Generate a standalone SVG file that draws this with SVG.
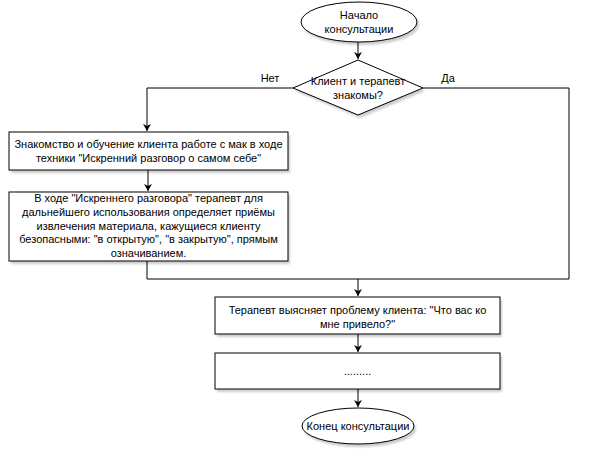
<svg xmlns="http://www.w3.org/2000/svg" width="591" height="460" viewBox="0 0 591 460">
<style>
.shape{fill:#ffffff;stroke:#000000;stroke-width:1}
.shadow{fill:#000000;opacity:0.2}
.edge{fill:none;stroke:#000000;stroke-width:1}
text{font-family:"Liberation Sans",Arial,sans-serif;font-size:11px;fill:#000000;text-anchor:middle}
</style>
<defs>
<marker id="arr" markerWidth="8" markerHeight="8" refX="7" refY="4" orient="auto" markerUnits="userSpaceOnUse">
<path d="M0,0 L7,4 L0,8 L2,4 Z" fill="#000000"/>
</marker>
<filter id="blur" x="-10%" y="-10%" width="120%" height="130%"><feGaussianBlur stdDeviation="1"/></filter>
</defs>
<rect width="591" height="460" fill="#ffffff"/>
<g id="connectors">
<path class="edge" d="M358,42 L358,59" marker-end="url(#arr)"/>
<path class="edge" d="M293,88 L147,88 L147,131" marker-end="url(#arr)"/>
<path class="edge" d="M148,170 L148,191" marker-end="url(#arr)"/>
<path class="edge" d="M423,88 L569,88 L569,279 L358,279"/>
<path class="edge" d="M147,261 L147,279 L358,279 L358,296" marker-end="url(#arr)"/>
<path class="edge" d="M358,334 L358,352" marker-end="url(#arr)"/>
<path class="edge" d="M358,389 L358,407" marker-end="url(#arr)"/>
<text x="270" y="82">Нет</text>
<text x="448" y="82">Да</text>
</g>
<g id="start">
<ellipse class="shadow" cx="361" cy="25" rx="58" ry="20" filter="url(#blur)"/>
<ellipse class="shape" cx="359" cy="22" rx="58" ry="20"/>
<text x="359" y="19">Начало</text>
<text x="359" y="33">консультации</text>
</g>
<g id="decision">
<polygon class="shadow" points="360,63 425,91 360,118 295,91" filter="url(#blur)"/>
<polygon class="shape" points="358,60 423,88 358,115 293,88"/>
<text x="358" y="85">Клиент и терапевт</text>
<text x="358" y="99">знакомы?</text>
</g>
<g id="box1">
<rect class="shadow" x="11" y="135" width="279" height="38" filter="url(#blur)"/>
<rect class="shape" x="9" y="132" width="279" height="38"/>
<text x="148.5" y="148">Знакомство и обучение клиента работе с мак в ходе</text>
<text x="148.5" y="162">техники "Искренний разговор о самом себе"</text>
</g>
<g id="box2">
<rect class="shadow" x="11" y="195" width="279" height="69" filter="url(#blur)"/>
<rect class="shape" x="9" y="192" width="279" height="69"/>
<text x="148.5" y="202">В ходе "Искреннего разговора" терапевт для</text>
<text x="148.5" y="216">дальнейшего использования определяет приёмы</text>
<text x="148.5" y="230">извлечения материала, кажущиеся клиенту</text>
<text x="148.5" y="243">безопасными: "в открытую", "в закрытую", прямым</text>
<text x="148.5" y="257">означиванием.</text>
</g>
<g id="box3">
<rect class="shadow" x="217" y="300" width="285" height="37" filter="url(#blur)"/>
<rect class="shape" x="215" y="297" width="285" height="37"/>
<text x="357.5" y="314">Терапевт выясняет проблему клиента: "Что вас ко</text>
<text x="357.5" y="328">мне привело?"</text>
</g>
<g id="box4">
<rect class="shadow" x="217" y="356" width="285" height="36" filter="url(#blur)"/>
<rect class="shape" x="215" y="353" width="285" height="36"/>
<text x="357.5" y="375">.........</text>
</g>
<g id="end">
<ellipse class="shadow" cx="360" cy="429" rx="56" ry="18" filter="url(#blur)"/>
<ellipse class="shape" cx="358" cy="426" rx="56" ry="18"/>
<text x="358" y="430">Конец консультации</text>
</g>
</svg>
